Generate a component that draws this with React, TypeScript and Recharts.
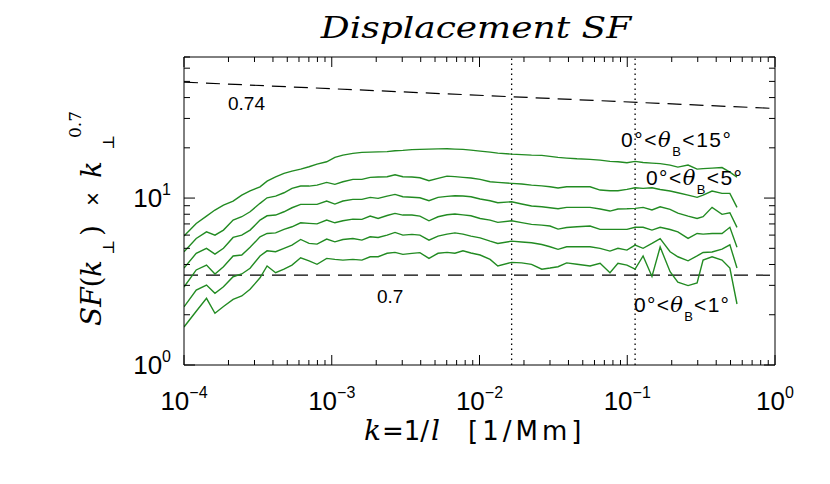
import React from 'react';
import { LineChart, Line, XAxis, YAxis, ReferenceLine } from 'recharts';

// plot box (px), matches the reference frame
const W = 830;
const H = 484;
const PL = 184;
const PR = 775;
const PT = 57;
const PB = 365;
// room the axes take outside the box
const AX_B = 30;
const AX_T = 20;
const AX_L = 60;
const AX_R = 40;

const GREEN = '#228b22';
const SANS = 'Liberation Sans, Arial, sans-serif';
const SERIF = 'DejaVu Serif, serif';

// wavenumber k [1/Mm]
const kVals = [
  1.0e-4, 1.21e-4, 1.42e-4, 1.62e-4, 1.85e-4, 2.15e-4, 2.46e-4, 2.8e-4, 3.27e-4, 3.65e-4,
  4.17e-4, 4.75e-4, 5.38e-4, 6.16e-4, 7.02e-4, 7.95e-4, 9.24e-4, 1.05e-3, 1.19e-3, 1.39e-3,
  1.6e-3, 1.82e-3, 2.06e-3, 2.37e-3, 2.68e-3, 3.03e-3, 3.49e-3, 3.95e-3, 4.55e-3, 5.24e-3,
  6.03e-3, 6.82e-3, 7.73e-3, 8.75e-3, 1.01e-2, 1.18e-2, 1.33e-2, 1.65e-2, 1.93e-2, 2.25e-2,
  2.64e-2, 3.0e-2, 3.4e-2, 3.89e-2, 4.57e-2, 5.6e-2, 6.55e-2, 7.64e-2, 8.65e-2, 9.95e-2,
  0.113, 0.128, 0.147, 0.167, 0.195, 0.22, 0.258, 0.297, 0.326, 0.375, 0.438, 0.495, 0.553,
];

// SF(k) * k^0.7, one list per angle band (top to bottom)
const sf1 = [
  5.92, 7.05, 7.8, 8.48, 9.08, 9.6, 10.42, 11.06, 11.68, 12.64,
  13.41, 14.06, 14.51, 14.91, 15.4, 15.98, 16.5, 17.53, 18.09, 18.52,
  18.78, 18.86, 18.91, 18.99, 19.19, 19.3, 19.51, 19.57, 19.65, 19.7,
  19.73, 19.65, 19.57, 19.38, 19.11, 18.86, 18.6, 18.34, 18.22, 18.09,
  18.02, 17.77, 17.53, 17.36, 17.19, 17.05, 16.89, 16.59, 16.5, 16.27,
  16.59, 16.32, 16.2, 16.09, 15.76, 15.33, 15.76, 14.91, 15.02, 15.12, 15.23, 14.31, 13.35,
];
const sf2 = [
  4.77, 5.73, 6.28, 6.0, 6.43, 7.38, 7.73, 8.28, 9.3, 10.04,
  10.28, 10.76, 11.43, 11.8, 11.8, 11.96, 12.42, 12.08, 12.52, 12.94,
  12.94, 13.31, 13.36, 13.41, 13.79, 13.41, 13.36, 13.23, 12.7, 13.12,
  13.54, 13.45, 13.31, 13.18, 12.94, 12.52, 12.42, 12.25, 12.13, 11.96,
  11.84, 11.68, 11.48, 11.68, 11.68, 11.68, 11.17, 11.06, 11.06, 11.28,
  11.53, 11.43, 11.53, 11.25, 11.02, 10.76, 10.42, 10.1, 10.42, 11.02, 10.67, 10.67, 8.8,
];
const sf3 = [
  3.81, 4.67, 5.0, 4.62, 5.0, 5.81, 6.0, 6.43, 7.38, 7.83,
  7.91, 8.28, 8.75, 9.17, 9.17, 9.17, 9.6, 9.21, 9.6, 9.82,
  9.82, 10.1, 9.96, 10.28, 10.52, 10.18, 10.11, 10.04, 9.64, 10.1,
  10.24, 10.32, 10.28, 10.18, 9.87, 9.64, 9.37, 9.5, 9.21, 8.96,
  8.87, 8.75, 8.63, 8.8, 8.8, 8.8, 8.6, 8.36, 8.6, 8.63,
  8.68, 8.8, 8.48, 8.87, 8.56, 8.13, 7.8, 7.55, 7.73, 8.8, 7.99, 8.16, 6.68,
];
const sf4 = [
  2.93, 3.71, 3.97, 3.51, 3.88, 4.5, 4.56, 5.07, 5.86, 6.14,
  6.19, 6.49, 6.73, 7.11, 7.05, 7.01, 7.38, 7.11, 7.31, 7.48,
  7.45, 7.8, 7.55, 7.86, 8.1, 7.91, 7.91, 7.8, 7.31, 7.73,
  7.94, 8.02, 7.93, 7.83, 7.55, 7.38, 7.15, 7.31, 7.13, 6.96,
  6.89, 6.8, 6.52, 6.66, 6.73, 6.8, 6.49, 6.49, 6.49, 6.49,
  6.68, 6.68, 6.43, 6.68, 6.48, 6.28, 5.73, 6.14, 6.08, 6.14, 6.14, 6.68, 5.07,
];
const sf5 = [
  2.23, 2.81, 3.01, 2.69, 2.94, 3.38, 3.51, 3.8, 4.5, 4.83,
  4.77, 5.0, 5.23, 5.65, 5.35, 5.3, 5.68, 5.47, 5.65, 5.73,
  5.6, 5.86, 5.81, 6.0, 6.23, 6.0, 6.06, 6.0, 5.6, 5.92,
  6.08, 6.19, 6.08, 5.92, 5.78, 5.52, 5.35, 5.52, 5.46, 5.4,
  5.27, 5.11, 4.93, 5.11, 5.11, 5.11, 5.0, 4.81, 5.0, 4.88,
  5.23, 5.0, 5.35, 5.72, 4.77, 4.45, 4.21, 4.5, 4.72, 4.75, 4.95, 5.25, 3.81,
];
const sf6 = [
  1.69, 2.1, 2.51, 2.04, 2.24, 2.47, 2.59, 2.84, 3.33, 3.92,
  3.57, 3.75, 3.97, 4.39, 4.21, 4.01, 4.35, 4.29, 4.25, 4.29,
  4.25, 4.45, 4.45, 4.67, 4.73, 4.6, 4.66, 4.71, 4.35, 4.67,
  4.73, 4.67, 4.83, 4.69, 4.56, 4.29, 3.92, 4.12, 4.09, 4.01,
  3.75, 3.81, 3.88, 4.09, 4.01, 3.92, 4.07, 3.57, 4.07, 3.97,
  3.75, 4.5, 3.39, 5.09, 3.62, 3.14, 2.99, 3.1, 4.25, 4.45, 4.25, 3.81, 2.32,
];
const series = [sf1, sf2, sf3, sf4, sf5, sf6];

// guide lines
const fit074 = [
  { x: 1e-4, y: 49.5 },
  { x: 1, y: 34.4 },
];
const fit07 = 3.45;
const dottedK = [0.0165, 0.113];

// axis ticks (majors at decades, minors in between)
const xTicks = [
  1e-4, 2e-4, 3e-4, 4e-4, 5e-4, 6e-4, 7e-4, 8e-4, 9e-4,
  1e-3, 2e-3, 3e-3, 4e-3, 5e-3, 6e-3, 7e-3, 8e-3, 9e-3,
  1e-2, 2e-2, 3e-2, 4e-2, 5e-2, 6e-2, 7e-2, 8e-2, 9e-2,
  0.1, 0.2, 0.3, 0.4, 0.5, 0.6, 0.7, 0.8, 0.9, 1,
];
const yTicks = [1, 2, 3, 4, 5, 6, 7, 8, 9, 10, 20, 30, 40, 50, 60, 70];

const isMajor = (v: number) => Math.abs(Math.log10(v) - Math.round(Math.log10(v))) < 1e-6;
const expOf = (v: number) => {
  const e = Math.round(Math.log10(v));
  return e < 0 ? '\u2212' + String(-e) : String(e);
};

function BottomTick(props: any) {
  const { x, payload } = props;
  const major = isMajor(payload.value);
  return (
    <g>
      <line x1={x} x2={x} y1={PB} y2={PB - (major ? 10 : 5)} stroke="#000" />
      {major && (
        <text x={x} y={PB + 45} textAnchor="middle" fontFamily={SANS} fontSize={26} fill="#000">
          10
          <tspan dy={-12} fontSize={16}>
            {expOf(payload.value)}
          </tspan>
        </text>
      )}
    </g>
  );
}

function TopTick(props: any) {
  const { x, payload } = props;
  const major = isMajor(payload.value);
  return <line x1={x} x2={x} y1={PT} y2={PT + (major ? 10 : 5)} stroke="#000" />;
}

function LeftTick(props: any) {
  const { y, payload } = props;
  const major = isMajor(payload.value);
  return (
    <g>
      <line x1={PL} x2={PL + (major ? 11 : 6)} y1={y} y2={y} stroke="#000" />
      {major && (
        <text x={PL - 13} y={y + 9} textAnchor="end" fontFamily={SANS} fontSize={26} fill="#000">
          10
          <tspan dy={-12} fontSize={16}>
            {expOf(payload.value)}
          </tspan>
        </text>
      )}
    </g>
  );
}

function RightTick(props: any) {
  const { y, payload } = props;
  const major = isMajor(payload.value);
  return <line x1={PR} x2={PR - (major ? 11 : 6)} y1={y} y2={y} stroke="#000" />;
}

function AngleLabel({ x, y, hi, len }: { x: number; y: number; hi: string; len: number }) {
  return (
    <text x={x} y={y} fontFamily={SANS} fontSize={21} fill="#000" textLength={len} lengthAdjust="spacing">
      0°&lt;
      <tspan fontFamily={SERIF} fontStyle="italic">θ</tspan>
      <tspan fontSize={13} dy={9}>B</tspan>
      <tspan dy={-9}>&lt;{hi}°</tspan>
    </text>
  );
}

export default function App() {
  const data = kVals.map((k, i) => {
    const row: any = { k };
    series.forEach((s, j) => (row['s' + j] = s[i]));
    return row;
  });

  const xCommon = {
    dataKey: 'k',
    type: 'number' as const,
    scale: 'log' as const,
    domain: [1e-4, 1],
    allowDataOverflow: true,
    ticks: xTicks,
    interval: 0 as const,
    tickLine: false,
    axisLine: { stroke: '#000', strokeWidth: 1 },
  };
  const yCommon = {
    type: 'number' as const,
    scale: 'log' as const,
    domain: [1, 70],
    allowDataOverflow: true,
    ticks: yTicks,
    interval: 0 as const,
    tickLine: false,
    axisLine: { stroke: '#000', strokeWidth: 1 },
  };

  return (
    <div style={{ position: 'absolute', left: 0, top: 0, width: W, height: H, background: '#fff' }}>
      <LineChart
        width={W}
        height={H}
        data={data}
        margin={{ top: PT - AX_T, right: W - PR - AX_R, bottom: H - PB - AX_B, left: PL - AX_L }}
      >
        <XAxis {...xCommon} xAxisId="b" orientation="bottom" height={AX_B} tick={BottomTick} />
        <XAxis {...xCommon} xAxisId="t" orientation="top" height={AX_T} tick={TopTick} />
        <YAxis {...yCommon} yAxisId="l" orientation="left" width={AX_L} tick={LeftTick} />
        <YAxis {...yCommon} yAxisId="r" orientation="right" width={AX_R} tick={RightTick} />

        <ReferenceLine
          xAxisId="b"
          yAxisId="l"
          segment={fit074}
          stroke="#000"
          strokeWidth={1.2}
          strokeDasharray="14 8"
          ifOverflow="visible"
        />
        <ReferenceLine xAxisId="b" yAxisId="l" y={fit07} stroke="#000" strokeWidth={1.2} strokeDasharray="14 8" />
        {dottedK.map((k) => (
          <ReferenceLine key={k} xAxisId="b" yAxisId="l" x={k} stroke="#000" strokeWidth={1.3} strokeDasharray="1.5 3.5" />
        ))}

        {series.map((_, j) => (
          <Line
            key={j}
            xAxisId="b"
            yAxisId="l"
            type="linear"
            dataKey={'s' + j}
            stroke={GREEN}
            strokeWidth={1.4}
            dot={false}
            isAnimationActive={false}
          />
        ))}
      </LineChart>

      <svg
        width={W}
        height={H}
        style={{ position: 'absolute', left: 0, top: 0, pointerEvents: 'none' }}
      >
        <g transform="translate(476,38) scale(1.2,1)">
          <text x={0} y={0} textAnchor="middle" fontFamily={SERIF} fontStyle="italic" fontSize={30} fill="#000">
            Displacement SF
          </text>
        </g>

        {/* x axis title */}
        <text y={440} fontSize={26} fontFamily="DejaVu Sans, sans-serif" fill="#000">
          <tspan x={364} fontFamily={SERIF} fontStyle="italic" fontSize={28}>k</tspan>
          <tspan x={382}>=1/</tspan>
          <tspan x={431} fontFamily={SERIF} fontStyle="italic" fontSize={28}>l</tspan>
          <tspan x={468} letterSpacing={4}>[1/Mm]</tspan>
        </text>

        {/* y axis title, rotated */}
        <g transform="translate(101,0) rotate(-90)">
          <text y={0} fontFamily={SERIF} fontSize={28} fill="#000">
            <tspan x={-326} fontStyle="italic">SF</tspan>
            <tspan>(</tspan>
            <tspan x={-277} fontStyle="italic">k</tspan>
            <tspan x={-255} y={13} fontSize={16}>⊥</tspan>
            <tspan x={-236} y={0}>)</tspan>
            <tspan x={-206} fontFamily={SANS} fontSize={24}>×</tspan>
            <tspan x={-178} fontStyle="italic">k</tspan>
            <tspan x={-150} y={13} fontSize={16}>⊥</tspan>
            <tspan x={-138} y={-20} fontSize={17}>0.7</tspan>
          </text>
        </g>

        <text x={228} y={110} fontFamily={SANS} fontSize={19} fill="#000">0.74</text>
        <text x={377} y={303} fontFamily={SANS} fontSize={19} fill="#000">0.7</text>

        <AngleLabel x={621} y={147} hi="15" len={110} />
        <AngleLabel x={646} y={185} hi="5" len={96} />
        <AngleLabel x={634} y={312} hi="1" len={95} />
      </svg>
    </div>
  );
}
